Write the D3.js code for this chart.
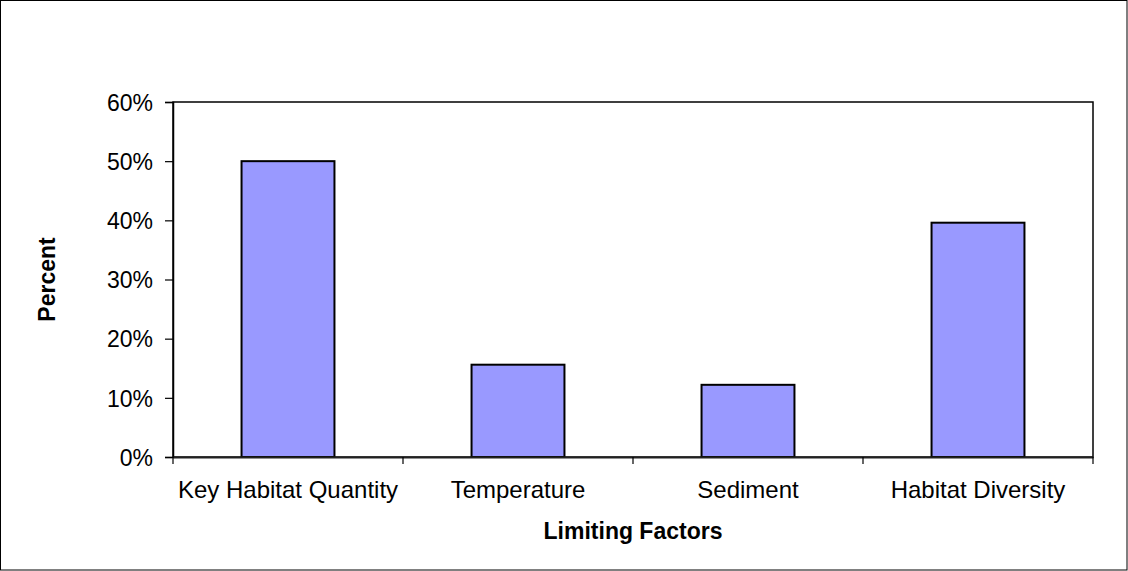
<!DOCTYPE html>
<html><head><meta charset="utf-8">
<script src="https://cdn.jsdelivr.net/npm/d3@7"></script>
<style>body{margin:0;background:#fff}svg{display:block}text{font-family:"Liberation Sans",Arial,sans-serif;fill:#000}</style>
</head><body>
<svg id="c" width="1128" height="571"></svg>
<script>
const categories = ["Key Habitat Quantity", "Temperature", "Sediment", "Habitat Diversity"];
const values = [0.50, 0.156, 0.122, 0.396];
const yTicks = [0, 0.1, 0.2, 0.3, 0.4, 0.5, 0.6];
const xTitle = "Limiting Factors";
const yTitle = "Percent";

const svg = d3.select("#c");
const W = 1128, H = 571;
const m = {left: 173, right: 1093, top: 102, bottom: 457};

svg.append("rect").attr("x",0.5).attr("y",0.5).attr("width",W-1.5).attr("height",H-1.5)
  .attr("fill","#fff").attr("stroke","#000").attr("stroke-width",1);

const x = d3.scaleBand().domain(categories).range([m.left, m.right]).paddingInner(0.596).paddingOuter(0.298);
const xb = d3.scaleBand().domain(categories).range([m.left, m.right]);
const y = d3.scaleLinear().domain([0, 0.6]).range([m.bottom, m.top]);

// plot frame
svg.append("rect").attr("x",m.left).attr("y",m.top).attr("width",m.right-m.left).attr("height",m.bottom-m.top)
  .attr("fill","none").attr("stroke","#000").attr("stroke-width",1.5);

// bars
svg.selectAll(".bar").data(values).enter().append("rect")
  .attr("x",(d,i)=>x(categories[i])).attr("y",d=>y(d))
  .attr("width",x.bandwidth()).attr("height",d=>y(0)-y(d))
  .attr("fill","#9999FF").attr("stroke","#000").attr("stroke-width",2);

// y axis
const ya = svg.append("g").attr("transform",`translate(${m.left},0)`)
  .call(d3.axisLeft(y).tickValues(yTicks).tickFormat(d3.format(".0%")).tickSize(8).tickPadding(12));
ya.select(".domain").attr("stroke","#000").attr("stroke-width",1.5);
ya.selectAll(".tick line").attr("stroke","#000").attr("stroke-width",1.2);
ya.selectAll("text").style("font-size","23px").attr("dy","0.36em");

// x axis
const xa = svg.append("g").attr("transform",`translate(0,${m.bottom})`)
  .call(d3.axisBottom(xb).tickSize(0));
xa.select(".domain").attr("stroke","#222").attr("stroke-width",2);
xa.selectAll("text").style("font-size","24px").attr("y",41).attr("dy","0");
const bounds = [m.left].concat(categories.map(c=>xb(c)+xb.bandwidth()));
svg.append("g").selectAll("line").data(bounds).enter().append("line")
  .attr("x1",d=>d).attr("x2",d=>d).attr("y1",m.bottom).attr("y2",m.bottom+7)
  .attr("stroke","#000").attr("stroke-width",1.2);

// titles
svg.append("text").attr("x",(m.left+m.right)/2).attr("y",539).attr("text-anchor","middle")
  .style("font-size","23px").style("font-weight","bold").text(xTitle);
svg.append("text").attr("transform",`translate(55,${(m.top+m.bottom)/2}) rotate(-90)`).attr("text-anchor","middle")
  .style("font-size","23px").style("font-weight","bold").text(yTitle);
</script>
</body></html>
